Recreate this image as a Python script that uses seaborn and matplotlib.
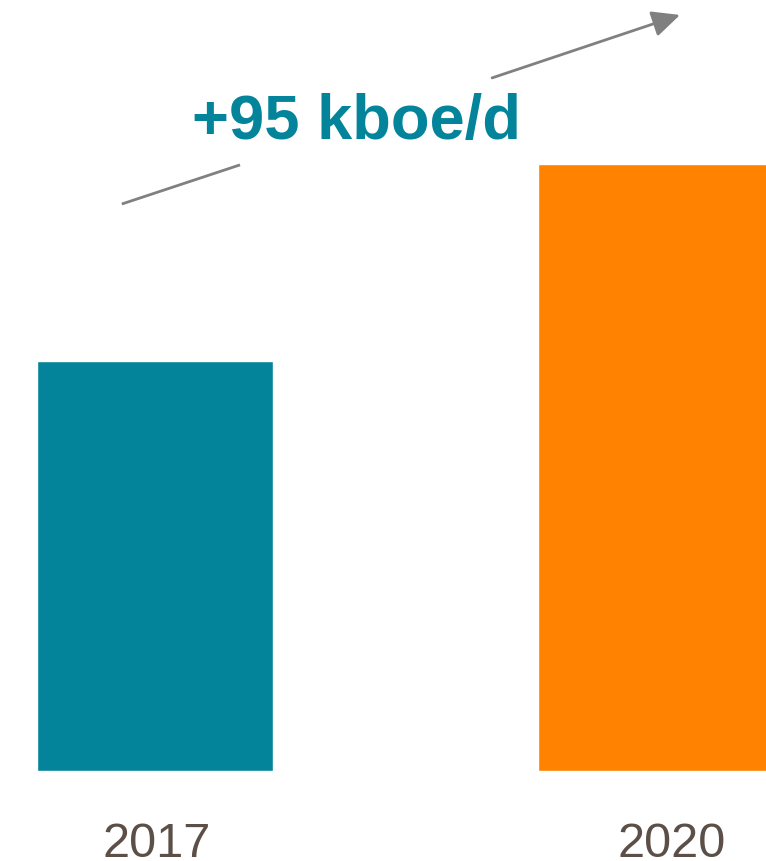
import matplotlib
matplotlib.use("Agg")
import matplotlib.pyplot as plt
import seaborn as sns
import pandas as pd

# Production (kboe/d) by year
years = ["2017", "2020"]
production = [198, 293]
bar_colors = ["#03849A", "#FF8200"]
growth_label = "+95 kboe/d"

df = pd.DataFrame({"year": years, "production": production})

sns.set_theme(style="white")
plt.rcParams["font.family"] = ["Liberation Sans", "DejaVu Sans"]

fig = plt.figure(figsize=(7.66, 8.62), dpi=100)
ax = fig.add_axes([0, 0, 1, 1])

sns.barplot(data=df, x="year", y="production", hue="year",
            palette=bar_colors, width=0.471, legend=False,
            saturation=1, ax=ax)

ax.set_xlim(-0.309, 1.2196)
ax.set_ylim(-43.46, 372.8)
ax.axis("off")

# Year labels under the bars
label_x = [0.004, 1.032]
for x, yr in zip(label_x, years):
    ax.text(x, -34.8, yr, ha="center", va="center", fontsize=35,
            color="#5B4F47")

# Growth arrow broken around the label
arrow_color = "#808080"
ax.plot([-0.0659, 0.170], [273.8, 292.7], color=arrow_color, lw=2,
        solid_capstyle="butt")
ax.annotate("", xy=(1.048, 365.1), xytext=(0.673, 334.7),
            arrowprops=dict(arrowstyle="-|>,head_length=1.7,head_width=0.8",
                            mutation_scale=10,
                            color=arrow_color, lw=2, shrinkA=0, shrinkB=0))

ax.text(0.402, 313.5, growth_label, ha="center", va="center",
        fontsize=45.5, fontweight="bold", color="#03849A")

fig.savefig("out.png", dpi=100)
